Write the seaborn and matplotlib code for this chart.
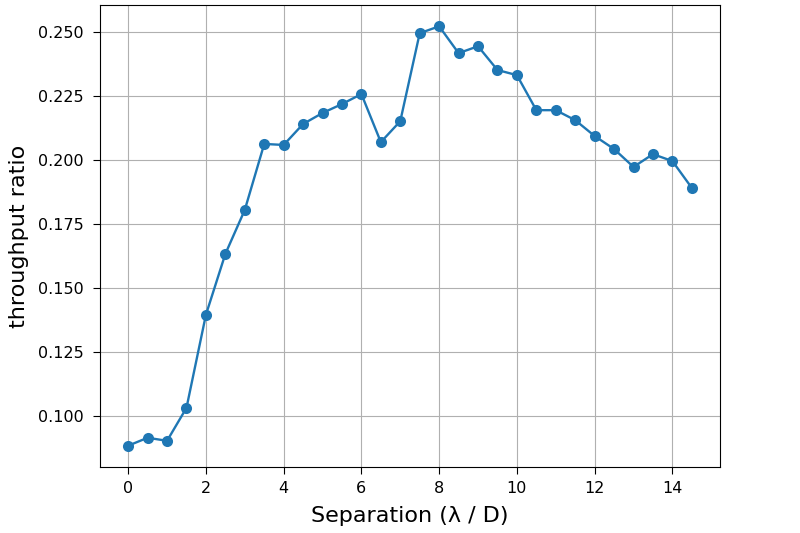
import numpy as np
import pandas as pd
import seaborn as sb
import matplotlib
matplotlib.use("Agg")
import matplotlib.pyplot as plt

separation = [0, 0.5, 1, 1.5, 2, 2.5, 3, 3.5, 4, 4.5, 5, 5.5, 6, 6.5, 7, 7.5,
              8, 8.5, 9, 9.5, 10, 10.5, 11, 11.5, 12, 12.5, 13, 13.5, 14, 14.5]
ratio = [0.0883, 0.0914, 0.0902, 0.1031, 0.1395, 0.1633, 0.1805, 0.2063,
         0.2059, 0.2141, 0.2184, 0.2219, 0.2258, 0.2070, 0.2152, 0.2496,
         0.2523, 0.2418, 0.2445, 0.2352, 0.2332, 0.2195, 0.2195, 0.2156,
         0.2094, 0.2043, 0.1973, 0.2023, 0.1996, 0.1891]

df = pd.DataFrame({"sep": separation, "ratio": ratio})

fig, ax = plt.subplots(figsize=(8, 5.33), dpi=100)
fig.subplots_adjust(left=0.125, right=0.9, top=0.99, bottom=0.124)

sb.lineplot(data=df, x="sep", y="ratio", marker="o", markersize=8,
            markeredgewidth=0, color="#1f77b4", linewidth=1.7, ax=ax)

ax.set_xticks([0, 2, 4, 6, 8, 10, 12, 14])
ax.set_yticks([0.100, 0.125, 0.150, 0.175, 0.200, 0.225, 0.250])
ax.set_xlim(-0.725, 15.225)
ax.set_ylim(0.0800, 0.2605)
ax.tick_params(labelsize=11.5, length=5)
ax.tick_params(axis="x", pad=5)
ax.tick_params(axis="y", pad=7)
ax.grid(True, color="#b0b0b0", linewidth=0.8)
ax.set_xlabel("Separation (λ / D)", fontsize=16, labelpad=7)
ax.set_ylabel("throughput ratio", fontsize=16, labelpad=6)

plt.savefig("out.png", dpi=100)
